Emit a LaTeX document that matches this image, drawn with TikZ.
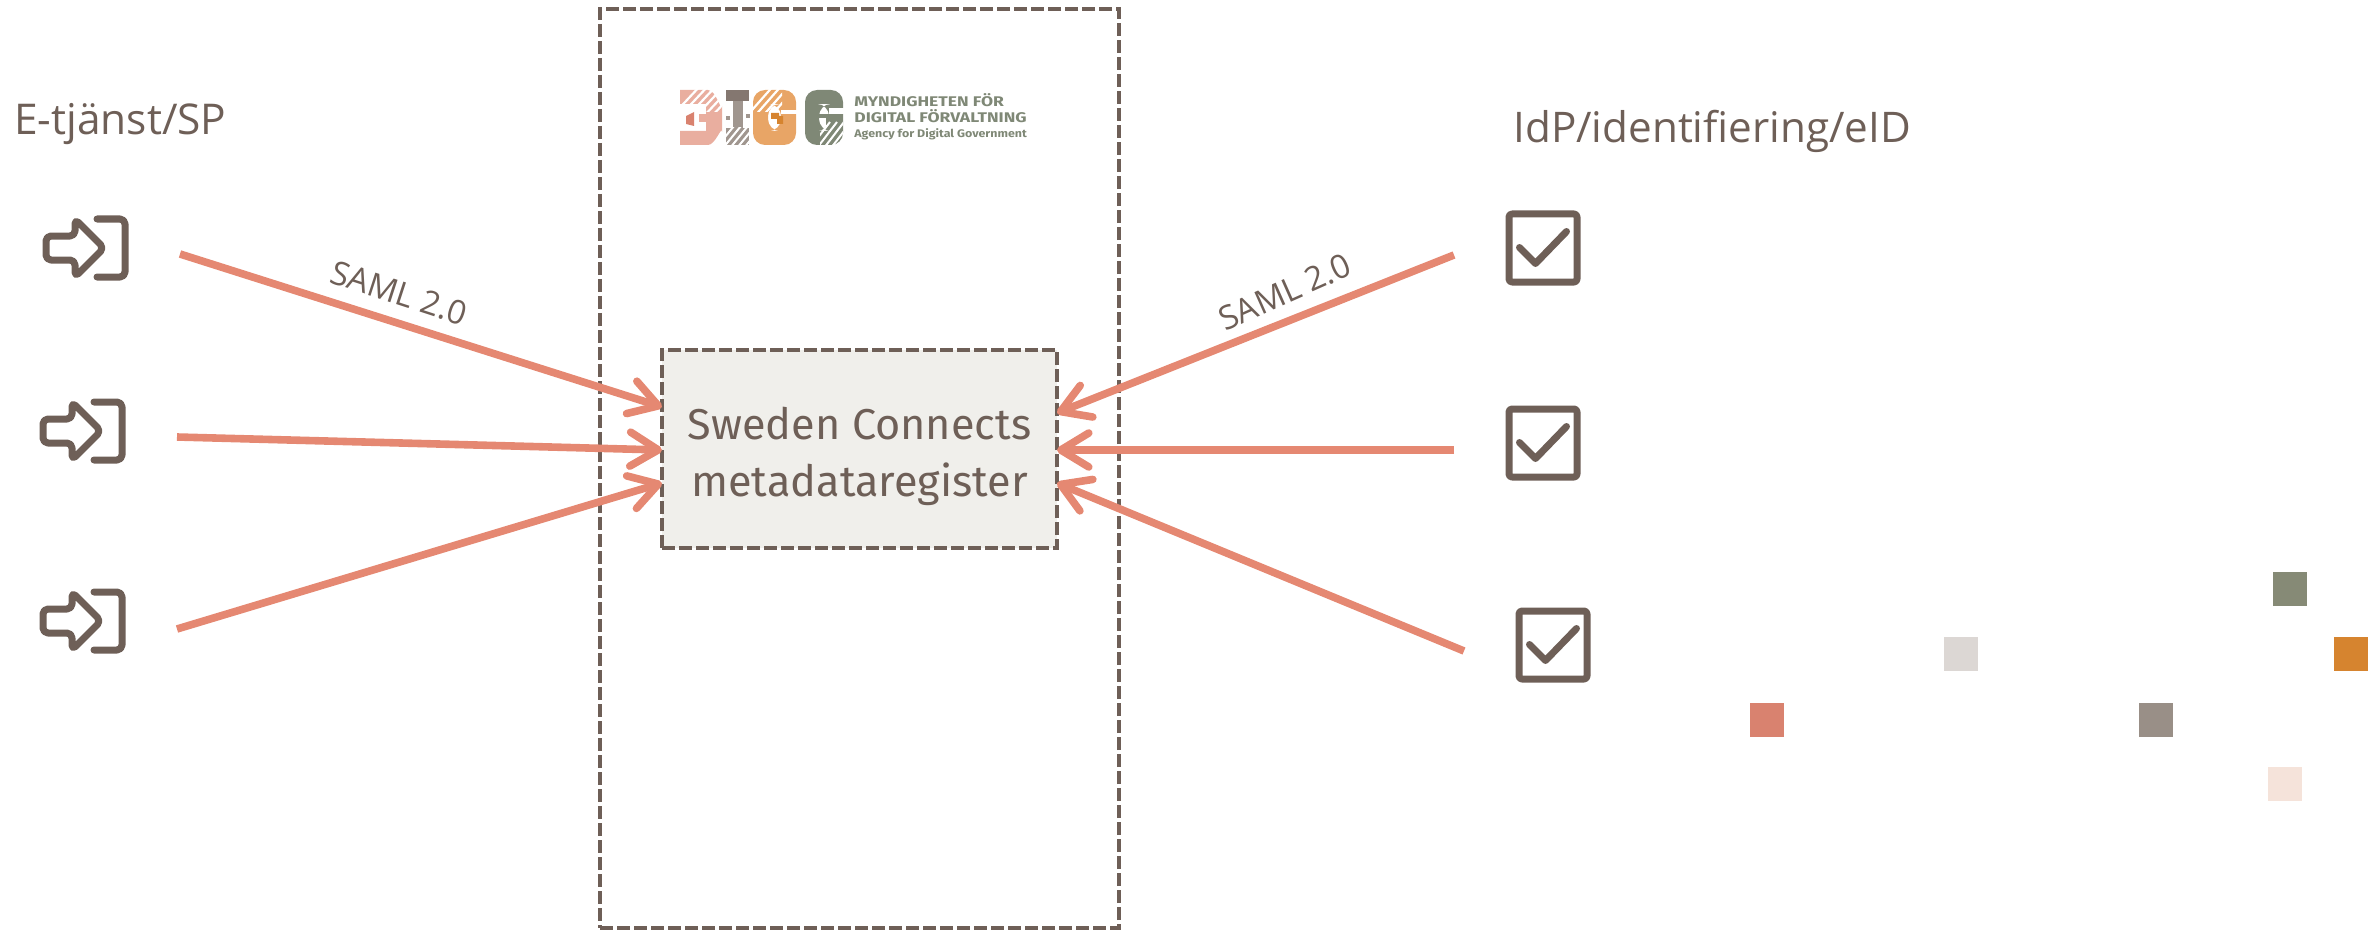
\documentclass[tikz,border=0pt]{standalone}
\usepackage{fontspec}
\setmainfont{Open Sans}
\newfontfamily\regfont{Fira Sans}
\newfontfamily\logofont{Fira Sans}
\usetikzlibrary{arrows.meta}
\definecolor{brownc}{HTML}{6E5F57}
\definecolor{salmonc}{HTML}{E58872}
\definecolor{fillc}{HTML}{F0EFEB}
\definecolor{sqgreen}{HTML}{868A76}
\definecolor{sqlight}{HTML}{DCD7D4}
\definecolor{sqorange}{HTML}{D6842F}
\definecolor{sqsalmon}{HTML}{D9826F}
\definecolor{sqgrey}{HTML}{998F87}
\definecolor{sqpale}{HTML}{F5E3DA}
\definecolor{lgsalmon}{HTML}{E9AE9F}
\definecolor{lgsalmond}{HTML}{D9826F}
\definecolor{lgorange}{HTML}{E8A566}
\definecolor{lgorangd}{HTML}{D6842F}
\definecolor{lggreen}{HTML}{7F8876}
\definecolor{lggrey}{HTML}{A0968F}
\tikzset{
  dashbox/.style={draw=brownc,line width=2.1pt,dash pattern=on 6.5pt off 2pt},
  iconline/.style={draw=brownc,line width=3.5pt,line cap=round,line join=round},
  iconspot/.style={inner sep=0pt,minimum width=44pt,minimum height=36pt},
  flow/.style={draw=salmonc,line width=3.8pt,-{Straight Barb[length=14pt,width=17pt,line width=3.8pt,round]}},
  caption/.style={text=brownc,anchor=base west,inner sep=0pt,font=\fontsize{21.2}{25}\selectfont},
  protolabel/.style={text=brownc,font=\fontsize{16.5}{19}\selectfont,inner sep=0pt},
  marker/.style={inner sep=0pt,minimum size=17pt,anchor=north west},
  logotext/.style={text=lggreen,anchor=base west,inner sep=0pt},
}
\newcommand{\signinicon}[2]{%
  \node[iconspot] (#1) at (#2) {};
  \begin{scope}[shift={(#2)}]
    \draw[iconline,rounded corners=2.5pt] (-9,-12) -- (-38,-12) -- (-38,12) -- (-9,12) -- (-9,29) -- (20,0) -- (-9,-29) -- cycle;
    \draw[iconline,rounded corners=2.5pt] (13,-29) -- (41,-29) -- (41,29) -- (13,29);
  \end{scope}}
\newcommand{\checkicon}[2]{%
  \node[iconspot] (#1) at (#2) {};
  \begin{scope}[shift={(#2)}]
    \draw[iconline,rounded corners=1.5pt] (-34,-34) rectangle (34,34);
    \draw[iconline] (-23.5,-0.5) -- (-7.5,15.5) -- (23.5,-16.5);
  \end{scope}}
\begin{document}
\begin{tikzpicture}[x=0.5pt,y=-0.5pt]
\useasboundingbox (0,0) rectangle (2374,931);
% outer frame
\node[dashbox,inner sep=0pt,minimum width=259.5pt,minimum height=459.5pt] (frame) at (859.5,468.5) {};
% register
\node[dashbox,fill=fillc,inner sep=0pt,minimum width=197.5pt,minimum height=99pt,text=brownc,
  font=\regfont\fontsize{21.6}{28.5}\selectfont] (reg) at (859.5,449)
  {\raisebox{0pt}[\dimexpr\height+8pt\relax]{\begin{tabular}{@{}c@{}}Sweden Connects\\metadataregister\end{tabular}}};
% captions
\node[caption] (spcap) at (14,134) {E-tjänst/SP};
\node[caption,font=\fontsize{21.1}{25}\selectfont] (idpcap) at (1513,143) {IdP/identifiering/eID};
% icons
\signinicon{sp1}{84,248}
\signinicon{sp2}{81,431}
\signinicon{sp3}{81,621}
\checkicon{idp1}{1543,248}
\checkicon{idp2}{1543,443}
\checkicon{idp3}{1553,645}
% connector ends
\coordinate (a1) at (180,254);
\coordinate (a2) at (177,437);
\coordinate (a3) at (177,629);
\coordinate (b1) at (1454,255);
\coordinate (b2) at (1454,450);
\coordinate (b3) at (1464,651);
\coordinate (r1) at (662,407);
\coordinate (r2) at (662,450);
\coordinate (r3) at (662,483);
\coordinate (r4) at (1057,413);
\coordinate (r5) at (1057,450);
\coordinate (r6) at (1057,483);
\draw[flow] (a1) -- (r1);
\draw[flow] (a2) -- (r2);
\draw[flow] (a3) -- (r3);
\draw[flow] (b1) -- (r4);
\draw[flow] (b2) -- (r5);
\draw[flow] (b3) -- (r6);
% labels
\node[protolabel,rotate=-18] (saml1) at (399,293) {SAML 2.0};
\node[protolabel,rotate=24] (saml2) at (1285,292) {SAML 2.0};
% scattered squares
\node[marker,fill=sqgreen] (m1) at (2273,572) {};
\node[marker,fill=sqlight] (m2) at (1944,637) {};
\node[marker,fill=sqorange] (m3) at (2334,637) {};
\node[marker,fill=sqsalmon] (m4) at (1750,703) {};
\node[marker,fill=sqgrey] (m5) at (2139,703) {};
\node[marker,fill=sqpale] (m6) at (2268,767) {};
% logo: D
\fill[lgsalmon,even odd rule] (680,90) -- (708,90) to[out=0,in=-90] (722,106) -- (722,132) to[out=90,in=0] (708,145) -- (680,145) -- (680,131) -- (706,131) -- (706,104) -- (680,104) -- cycle;
\begin{scope}
  \clip (680,90) rectangle (722,112);
  \foreach \k in {0,8,...,64} \draw[white,line width=1.1pt] (672+\k,116) -- (702+\k,84);
\end{scope}
\fill[lgsalmond] (686,116) -- (694,112) -- (694,126) -- (686,124) -- cycle;
\fill[lgsalmon] (699,114) rectangle (708,122);
% logo: I
\fill[brownc!85] (726,90) rectangle (749,101);
\fill[lggrey] (733,101) rectangle (743,128);
\fill[lggrey] (726,116) rectangle (730,120);
\fill[lggrey] (746,114) rectangle (750,118);
\fill[lggrey] (726,128) rectangle (749,145);
\begin{scope}
  \clip (726,128) rectangle (749,145);
  \foreach \k in {0,7,...,42} \draw[white,line width=1pt] (716+\k,148) -- (734+\k,126);
\end{scope}
% logo: first G
\fill[lgorange,even odd rule,rounded corners=6pt] (753,90) rectangle (796,145) (768,104) rectangle (781,131);
\fill[white] (781,110) rectangle (797,114);
\begin{scope}
  \clip (753,90) rectangle (782,112);
  \foreach \k in {0,8,...,48} \draw[white,line width=1.1pt] (745+\k,118) -- (775+\k,84);
\end{scope}
\fill[lgorangd] (771,113) -- (779,113) -- (779,116) -- (783,116) -- (783,124) -- (777,124) -- (777,119) -- (771,119) -- cycle;
% logo: second G
\fill[lggreen,even odd rule,rounded corners=6pt] (805,90) rectangle (843,145) (819,104) rectangle (829,131);
\fill[white] (829,108) rectangle (844,114);
\fill[lggreen] (819,114) rectangle (832,118);
\fill[lggreen] (826,118) rectangle (832,126);
\begin{scope}
  \clip (820,118) rectangle (843,145);
  \foreach \k in {0,7,...,42} \draw[white,line width=1pt] (810+\k,148) -- (830+\k,122);
\end{scope}
% logo text
\node[logotext,font=\logofont\bfseries\fontsize{7}{8}\selectfont] (lg1) at (854,107) {\scalebox{1.25}[1]{MYNDIGHETEN FÖR}};
\node[logotext,font=\logofont\bfseries\fontsize{7}{8}\selectfont] (lg2) at (854,123) {\scalebox{1.25}[1]{DIGITAL FÖRVALTNING}};
\node[logotext,font=\logofont\bfseries\fontsize{5.5}{7}\selectfont] (lg3) at (854,138) {\scalebox{1.13}[1]{Agency for Digital Government}};
\end{tikzpicture}
\end{document}
